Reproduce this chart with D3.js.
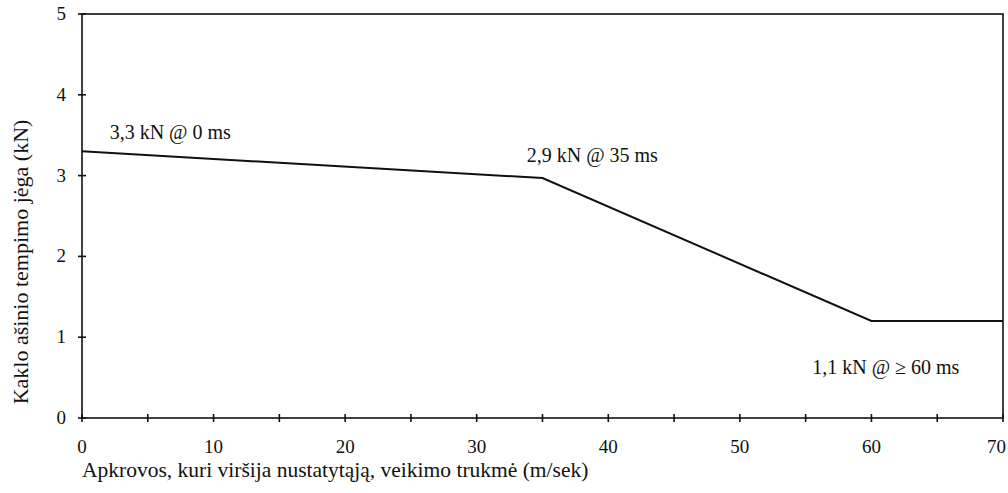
<!DOCTYPE html>
<html>
<head>
<meta charset="utf-8">
<script src="https://cdn.jsdelivr.net/npm/d3@7"></script>
<style>
  body { margin: 0; background: #fff; }
  text { font-family: "Liberation Serif", "DejaVu Serif", serif; fill: #111; }
</style>
</head>
<body>
<div class="chart"></div>
<script>
var w = 1008;
var h = 493;

// data
var timeMs = [0, 35, 60, 70];
var forceKn = [3.3, 2.97, 1.2, 1.2];
var xTicks = [0, 10, 20, 30, 40, 50, 60, 70];
var xMinorTicks = [5, 15, 25, 35, 45, 55, 65];
var yTicks = [0, 1, 2, 3, 4, 5];
var noteTexts = ["3,3 kN @ 0 ms", "2,9 kN @ 35 ms", "1,1 kN @ \u2265 60 ms"];
var noteX = [2.1, 33.8, 55.5];
var noteY = [3.45, 3.17, 0.55];

var margin = {left: 82, right: 5, top: 14, bottom: 75};

var svg = d3.select(".chart")
            .append("svg")
            .attr("width", w)
            .attr("height", h);

var xScale = d3.scaleLinear()
               .domain([0, 70])
               .range([margin.left, w - margin.right]);

var yScale = d3.scaleLinear()
               .domain([0, 5])
               .range([h - margin.bottom, margin.top]);

// frame
svg.append("rect")
   .attr("x", xScale(0))
   .attr("y", yScale(5))
   .attr("width", xScale(70) - xScale(0))
   .attr("height", yScale(0) - yScale(5))
   .attr("fill", "none")
   .attr("stroke", "#111")
   .attr("stroke-width", 1.6);

// ticks crossing the axes
svg.selectAll(".xtick")
   .data(xTicks.concat(xMinorTicks))
   .enter()
   .append("line")
   .attr("x1", d => xScale(d))
   .attr("x2", d => xScale(d))
   .attr("y1", yScale(0) - 4)
   .attr("y2", yScale(0) + 4)
   .attr("stroke", "#111")
   .attr("stroke-width", 1.6);

svg.selectAll(".ytick")
   .data(yTicks)
   .enter()
   .append("line")
   .attr("x1", xScale(0) - 4)
   .attr("x2", xScale(0) + 4)
   .attr("y1", d => yScale(d))
   .attr("y2", d => yScale(d))
   .attr("stroke", "#111")
   .attr("stroke-width", 1.6);

// last label sits inside the page edge
svg.selectAll(".xlab")
   .data(xTicks)
   .enter()
   .append("text")
   .attr("x", (d, i) => i === xTicks.length - 1 ? xScale(d) + 3 : xScale(d))
   .attr("y", yScale(0) + 35)
   .attr("text-anchor", (d, i) => i === xTicks.length - 1 ? "end" : "middle")
   .style("font-size", "19px")
   .text(d => d);

svg.selectAll(".ylab")
   .data(yTicks)
   .enter()
   .append("text")
   .attr("x", xScale(0) - 16)
   .attr("y", d => yScale(d) + 6)
   .attr("text-anchor", "end")
   .style("font-size", "19px")
   .text(d => d);

// the curve
var line = d3.line()
             .x((d, i) => xScale(timeMs[i]))
             .y(d => yScale(d));

svg.append("path")
   .datum(forceKn)
   .attr("d", line)
   .attr("fill", "none")
   .attr("stroke", "#111")
   .attr("stroke-width", 2);

svg.selectAll(".note")
   .data(noteTexts)
   .enter()
   .append("text")
   .attr("x", (d, i) => xScale(noteX[i]))
   .attr("y", (d, i) => yScale(noteY[i]))
   .style("font-size", "20px")
   .text(d => d);

// axis titles
svg.append("text")
   .attr("x", xScale(0))
   .attr("y", 477)
   .style("font-size", "21.5px")
   .text("Apkrovos, kuri viršija nustatytąją, veikimo trukmė (m/sek)");

svg.append("text")
   .attr("transform", "translate(28, 262) rotate(-90)")
   .attr("text-anchor", "middle")
   .style("font-size", "22px")
   .text("Kaklo ašinio tempimo jėga (kN)");
</script>
</body>
</html>
